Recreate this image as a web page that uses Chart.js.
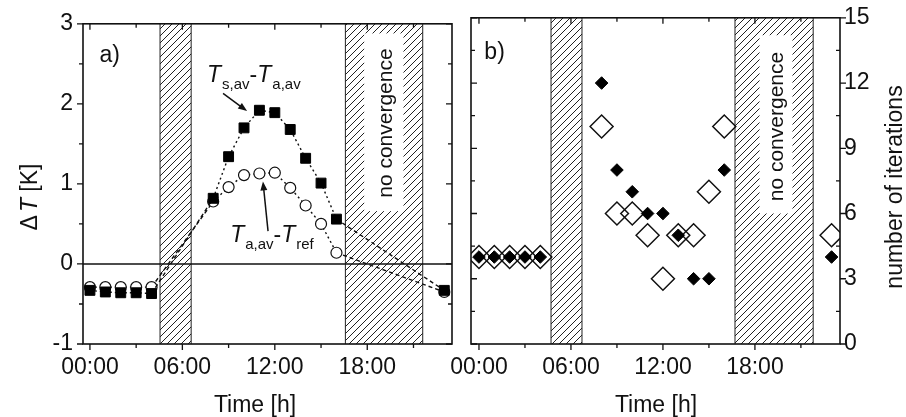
<!DOCTYPE html>
<html><head><meta charset="utf-8">
<script src="https://cdn.jsdelivr.net/npm/chart.js@4.4.0/dist/chart.umd.min.js"></script>
<style>
html,body{margin:0;padding:0;background:#fff;}
#wrap{position:relative;width:906px;height:417px;overflow:hidden;}
canvas{position:absolute;left:0;top:0;}
</style></head><body>
<div id="wrap"><canvas id="cA" width="906" height="417"></canvas><canvas id="cB" width="906" height="417"></canvas></div>
<script>
// ---------- data ----------
const hoursA = [0, 1, 2, 3, 4, 8, 9, 10, 11, 12, 13, 14, 15, 16, 23];
const dTsurfAir = [-0.33, -0.35, -0.36, -0.36, -0.37, 0.82, 1.34, 1.70, 1.92, 1.89, 1.68, 1.32, 1.01, 0.56, -0.33];
const dTairRef  = [-0.29, -0.29, -0.29, -0.29, -0.29, 0.78, 0.96, 1.11, 1.13, 1.14, 0.95, 0.73, 0.50, 0.14, -0.35];
const hoursB = [0, 1, 2, 3, 4, 8, 9, 10, 11, 12, 13, 14, 15, 16, 23];
const iterFilled = [4, 4, 4, 4, 4, 12, 8, 7, 6, 6, 5, 3, 3, 8, 4];
const iterOpen   = [4, 4, 4, 4, 4, 10, 6, 6, 5, 3, 5, 5, 7, 10, 5];
const hourTicks = [0, 6, 12, 18];
const yTicksA = [-1, 0, 1, 2, 3];
const yTicksB = [0, 3, 6, 9, 12, 15];
const gapsA = [[4.55, 6.57], [16.58, 21.6]];
const gapsB = [[4.7, 6.72], [16.7, 21.8]];

// ---------- style ----------
const FONT = "'Liberation Sans', Arial, Helvetica, sans-serif";
const INK = '#111';
const FS = 23;

function hourLabel(v){ return (v < 10 ? '0' : '') + v + ':00'; }

function makeHatch(ctx){
  const c = document.createElement('canvas'); c.width = 7; c.height = 7;
  const g = c.getContext('2d');
  g.strokeStyle = '#222'; g.lineWidth = 1;
  g.beginPath();
  g.moveTo(-1, 8); g.lineTo(8, -1);
  g.moveTo(-1, 1); g.lineTo(1, -1);
  g.moveTo(6, 8); g.lineTo(8, 6);
  g.stroke();
  return ctx.createPattern(c, 'repeat');
}

function drawParts(ctx, x, yb, parts){
  parts.forEach(p => {
    if (p.sub){ ctx.font = '15px ' + FONT; ctx.fillText(p.t, x + 1, yb + 7); x += ctx.measureText(p.t).width + 1; }
    else { ctx.font = (p.it ? 'italic ' : '') + FS + 'px ' + FONT; ctx.fillText(p.t, x, yb); x += ctx.measureText(p.t).width + (p.gap || 0); }
  });
}
function partsWidth(ctx, parts){
  let w = 0;
  parts.forEach(p => {
    if (p.sub){ ctx.font = '15px ' + FONT; w += ctx.measureText(p.t).width + 1; }
    else { ctx.font = (p.it ? 'italic ' : '') + FS + 'px ' + FONT; w += ctx.measureText(p.t).width + (p.gap || 0); }
  });
  return w;
}
function arrow(ctx, x0, y0, x1, y1){
  const ang = Math.atan2(y1 - y0, x1 - x0), L = 9, W = 3.5;
  ctx.strokeStyle = INK; ctx.lineWidth = 1.5;
  ctx.beginPath(); ctx.moveTo(x0, y0); ctx.lineTo(x1 - Math.cos(ang) * L * 0.8, y1 - Math.sin(ang) * L * 0.8); ctx.stroke();
  ctx.fillStyle = INK; ctx.beginPath();
  ctx.moveTo(x1, y1);
  ctx.lineTo(x1 - Math.cos(ang) * L - Math.sin(ang) * W, y1 - Math.sin(ang) * L + Math.cos(ang) * W);
  ctx.lineTo(x1 - Math.cos(ang) * L + Math.sin(ang) * W, y1 - Math.sin(ang) * L - Math.cos(ang) * W);
  ctx.closePath(); ctx.fill();
}

function tickMarks(ctx, a, x, y, cfg){
  ctx.strokeStyle = INK; ctx.lineWidth = 1.3;
  ctx.beginPath();
  for (let h = 0; h <= 24; h += 3){
    const px = x.getPixelForValue(h);
    if (px < a.left - 0.5 || px > a.right + 0.5) continue;
    const L = (h % 6 === 0) ? 6 : 4;
    ctx.moveTo(px, a.bottom); ctx.lineTo(px, a.bottom + L);
    ctx.moveTo(px, a.top); ctx.lineTo(px, a.top + L);
  }
  for (let v = cfg.ymin; v <= cfg.ymax + 1e-9; v += cfg.ystep){
    const py = y.getPixelForValue(v);
    const major = Math.abs(v / cfg.ymajor - Math.round(v / cfg.ymajor)) < 1e-6;
    const L = major ? 6 : 4;
    const ld = cfg.leftDir(major);
    ctx.moveTo(a.left, py); ctx.lineTo(a.left + ld * L, py);
    const rd = cfg.rightDir(major);
    ctx.moveTo(a.right, py); ctx.lineTo(a.right + rd * L, py);
  }
  ctx.stroke();
  ctx.lineWidth = 1.6;
  ctx.strokeRect(a.left, a.top, a.right - a.left, a.bottom - a.top);
}

function rotText(ctx, parts, cx, cy){
  ctx.save();
  ctx.translate(cx, cy); ctx.rotate(-Math.PI / 2);
  ctx.fillStyle = INK; ctx.textBaseline = 'alphabetic'; ctx.textAlign = 'left';
  const w = partsWidth(ctx, parts);
  drawParts(ctx, -w / 2, 0, parts);
  ctx.restore();
}

function bgPlugin(gaps, yId, nc, zeroLine){
  return {
    id: 'bg' + yId,
    beforeDatasetsDraw(chart){
      const {ctx, chartArea: a} = chart; const x = chart.scales.x, y = chart.scales[yId];
      ctx.save();
      ctx.beginPath(); ctx.rect(a.left, a.top, a.right - a.left, a.bottom - a.top); ctx.clip();
      const pat = makeHatch(ctx);
      gaps.forEach(([g0, g1]) => {
        const x0 = x.getPixelForValue(g0), x1 = x.getPixelForValue(g1);
        ctx.fillStyle = pat; ctx.fillRect(x0, a.top, x1 - x0, a.bottom - a.top);
        ctx.strokeStyle = '#222'; ctx.lineWidth = 1;
        ctx.beginPath(); ctx.moveTo(x0, a.top); ctx.lineTo(x0, a.bottom); ctx.moveTo(x1, a.top); ctx.lineTo(x1, a.bottom); ctx.stroke();
      });
      const bx0 = x.getPixelForValue(nc.box[0]), bx1 = x.getPixelForValue(nc.box[1]);
      const by0 = y.getPixelForValue(nc.box[3]), by1 = y.getPixelForValue(nc.box[2]);
      ctx.fillStyle = '#fff'; ctx.fillRect(bx0, by0, bx1 - bx0, by1 - by0);
      ctx.translate(x.getPixelForValue(nc.tx), y.getPixelForValue(nc.ty));
      ctx.rotate(-Math.PI / 2);
      ctx.font = '21px ' + FONT; ctx.fillStyle = INK; ctx.textAlign = 'center'; ctx.textBaseline = 'alphabetic';
      ctx.fillText('no convergence', 0, 0);
      ctx.restore();
      if (zeroLine){
        const py = y.getPixelForValue(0);
        ctx.save(); ctx.strokeStyle = INK; ctx.lineWidth = 1.4;
        ctx.beginPath(); ctx.moveTo(a.left, py); ctx.lineTo(a.right, py); ctx.stroke(); ctx.restore();
      }
    }
  };
}

const gapDash = ctx => (ctx.p1.parsed.x - ctx.p0.parsed.x > 2 ? [4, 3] : [2, 3]);

// ---------- panel a ----------
const chartA = new Chart(document.getElementById('cA'), {
  type: 'scatter',
  data: { datasets: [
    { data: hoursA.map((h, i) => ({x: h, y: dTsurfAir[i]})), showLine: true,
      borderColor: INK, borderWidth: 1.4, segment: {borderDash: gapDash},
      pointStyle: 'rect', pointRadius: 7, pointBackgroundColor: '#000', pointBorderColor: '#000', pointBorderWidth: 1 },
    { data: hoursA.map((h, i) => ({x: h, y: dTairRef[i]})), showLine: true,
      borderColor: INK, borderWidth: 1.4, segment: {borderDash: gapDash},
      pointStyle: 'circle', pointRadius: 5.5, pointBackgroundColor: '#fff', pointBorderColor: INK, pointBorderWidth: 1.2 }
  ]},
  options: {
    responsive: false, animation: false, events: [],
    layout: {padding: {top: 15, right: 454, left: 0, bottom: 0}},
    plugins: {legend: {display: false}, tooltip: {enabled: false}},
    scales: {
      x: { type: 'linear', min: -0.45, max: 23.5,
        afterBuildTicks: s => { s.ticks = hourTicks.map(v => ({value: v})); },
        afterFit: s => { s.height = 73; },
        ticks: {callback: v => hourLabel(v), font: {family: FONT, size: FS}, color: INK, padding: 10, maxRotation: 0, autoSkip: false},
        grid: {display: false, drawTicks: false}, border: {display: false} },
      y: { type: 'linear', min: -1, max: 3,
        afterBuildTicks: s => { s.ticks = yTicksA.map(v => ({value: v})); },
        afterFit: s => { s.width = 83; },
        ticks: {font: {family: FONT, size: FS}, color: INK, padding: 10},
        grid: {display: false, drawTicks: false}, border: {display: false} }
    }
  },
  plugins: [
    bgPlugin(gapsA, 'y', {box: [17.8, 20.35, 0.66, 2.88], tx: 19.6, ty: 1.76}, true),
    { id: 'decoA',
      afterDraw(chart){
        const {ctx, chartArea: a} = chart; const x = chart.scales.x, y = chart.scales.y;
        ctx.save();
        tickMarks(ctx, a, x, y, {ymin: -1, ymax: 3, ystep: 0.5, ymajor: 1, leftDir: () => -1, rightDir: () => -1});
        ctx.fillStyle = INK; ctx.textBaseline = 'alphabetic';
        ctx.font = FS + 'px ' + FONT; ctx.fillText('a)', x.getPixelForValue(0.62), y.getPixelForValue(2.52));
        drawParts(ctx, x.getPixelForValue(7.6), y.getPixelForValue(2.27),
          [{t: 'T', it: true}, {t: 's,av', sub: true}, {t: '-'}, {t: 'T', it: true}, {t: 'a,av', sub: true}]);
        arrow(ctx, x.getPixelForValue(8.64), y.getPixelForValue(2.13), x.getPixelForValue(10.2), y.getPixelForValue(1.91));
        drawParts(ctx, x.getPixelForValue(9.1), y.getPixelForValue(0.27),
          [{t: 'T', it: true}, {t: 'a,av', sub: true}, {t: '-'}, {t: 'T', it: true}, {t: 'ref', sub: true}]);
        arrow(ctx, x.getPixelForValue(11.56), y.getPixelForValue(0.41), x.getPixelForValue(11.23), y.getPixelForValue(1.03));
        ctx.font = FS + 'px ' + FONT; ctx.textAlign = 'center';
        ctx.fillText('Time [h]', 255, 412);
        ctx.textAlign = 'left';
        rotText(ctx, [{t: 'Δ', gap: 3}, {t: 'T', it: true}, {t: ' [K]'}], 37, 197);
        ctx.restore();
      } }
  ]
});

// ---------- panel b ----------
const chartB = new Chart(document.getElementById('cB'), {
  type: 'scatter',
  data: { datasets: [
    { data: hoursB.map((h, i) => ({x: h, y: iterFilled[i]})), yAxisID: 'y', clip: 0,
      pointStyle: 'rectRot', pointRadius: 6.3, pointBackgroundColor: '#000', pointBorderColor: '#000', pointBorderWidth: 1 },
    { data: hoursB.map((h, i) => ({x: h, y: iterOpen[i]})), yAxisID: 'y', clip: 0,
      pointStyle: 'rectRot', pointRadius: 11.5, pointBackgroundColor: 'rgba(255,255,255,0)', pointBorderColor: INK, pointBorderWidth: 1.5 }
  ]},
  options: {
    responsive: false, animation: false, events: [],
    layout: {padding: {top: 15, right: 0, left: 471, bottom: 0}},
    plugins: {legend: {display: false}, tooltip: {enabled: false}},
    scales: {
      x: { type: 'linear', min: -0.52, max: 23.55,
        afterBuildTicks: s => { s.ticks = hourTicks.map(v => ({value: v})); },
        afterFit: s => { s.height = 73; },
        ticks: {callback: v => hourLabel(v), font: {family: FONT, size: FS}, color: INK, padding: 10, maxRotation: 0, autoSkip: false},
        grid: {display: false, drawTicks: false}, border: {display: false} },
      y: { type: 'linear', position: 'right', min: 0, max: 15,
        afterBuildTicks: s => { s.ticks = yTicksB.map(v => ({value: v})); },
        afterFit: s => { s.width = 66; },
        ticks: {font: {family: FONT, size: FS}, color: INK, padding: 4},
        grid: {display: false, drawTicks: false}, border: {display: false} }
    }
  },
  plugins: [
    bgPlugin(gapsB, 'y', {box: [18.3, 20.45, 6.0, 14.2], tx: 19.83, ty: 10.0}, false),
    { id: 'decoB',
      afterDraw(chart){
        const {ctx, chartArea: a} = chart; const x = chart.scales.x, y = chart.scales.y;
        ctx.save();
        tickMarks(ctx, a, x, y, {ymin: 0, ymax: 15, ystep: 1.5, ymajor: 3, leftDir: () => 1, rightDir: m => (m ? 1 : -1)});
        ctx.fillStyle = INK; ctx.textBaseline = 'alphabetic';
        ctx.font = FS + 'px ' + FONT; ctx.fillText('b)', x.getPixelForValue(0.35), y.getPixelForValue(13.1));
        ctx.textAlign = 'center';
        ctx.fillText('Time [h]', 656, 412);
        ctx.textAlign = 'left';
        rotText(ctx, [{t: 'number of iterations'}], 902, 187);
        ctx.restore();
      } }
  ]
});
</script>
</body></html>
